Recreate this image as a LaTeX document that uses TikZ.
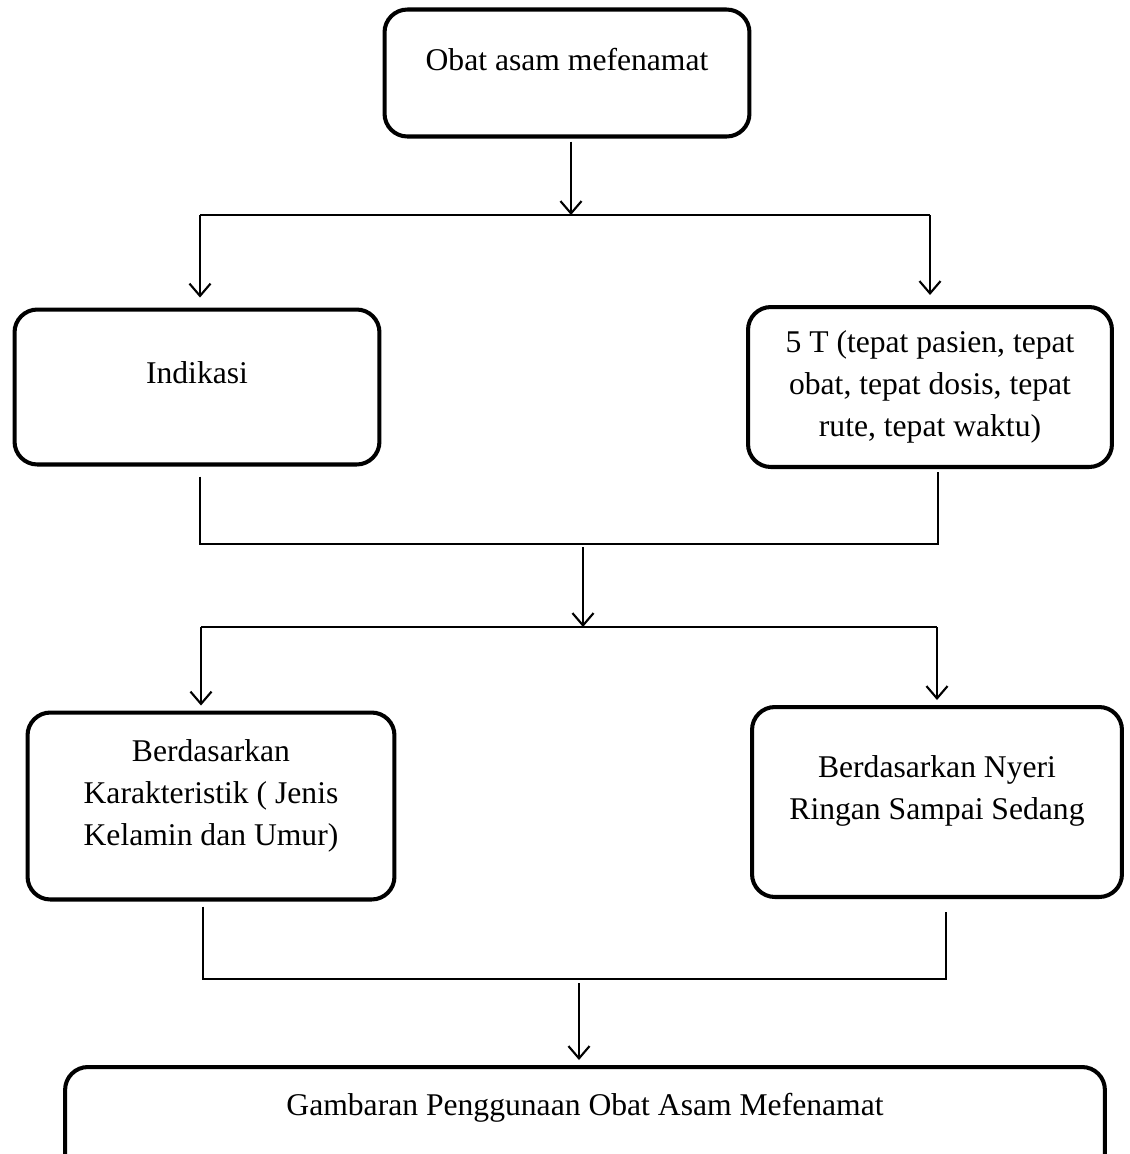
\documentclass[tikz,border=0pt]{standalone}
\usepackage{fontspec}
\setmainfont{Liberation Serif}
\usetikzlibrary{arrows.meta,calc}

\begin{document}
\begin{tikzpicture}[x=0.02cm,y=-0.02cm,
  >={Straight Barb[length=7pt,width=12pt,line width=1.2pt]},
  box/.style={draw,line width=2.3pt,rounded corners=13pt},
  txt/.style={font=\fontsize{18}{24}\selectfont,align=center},
  wire/.style={line width=1.1pt}]
  \useasboundingbox (0,0) rectangle (1130,1154);
  \clip (0,0) rectangle (1130,1154);
  % boxes
  \node[box,minimum width=7.3cm,minimum height=2.54cm,
    label={[txt,yshift=.26cm]center:Obat asam mefenamat}] (obat) at (567,73) {};
  \node[box,minimum width=7.3cm,minimum height=3.1cm,
    label={[txt,yshift=.28cm]center:Indikasi}] (indikasi) at (197,387) {};
  \node[box,minimum width=7.28cm,minimum height=3.2cm,
    label={[txt]center:{5 T (tepat pasien, tepat\\obat, tepat dosis, tepat\\rute, tepat waktu)}}] (limat) at (930,387) {};
  \node[box,minimum width=7.34cm,minimum height=3.74cm,
    label={[txt,yshift=.2cm]center:{Berdasarkan\\Karakteristik ( Jenis\\Kelamin dan Umur)}}] (karakter) at (211,806) {};
  \node[box,minimum width=7.4cm,minimum height=3.8cm,
    label={[txt,yshift=.22cm]center:{Berdasarkan Nyeri\\Ringan Sampai Sedang}}] (nyeri) at (937,802) {};
  \node[box,minimum width=20.8cm,minimum height=2.24cm,
    label={[txt,yshift=.3cm]center:Gambaran Penggunaan Obat Asam Mefenamat}] (gambaran) at (585,1123) {};
  % first split
  \coordinate (a1) at (200,215); \coordinate (a2) at (930,215);
  \draw[wire,->] ($(obat.south)+(4,3)$) -- ($(obat.south |- a1)+(4,0)$);
  \draw[wire] (a1) -- (a2);
  \draw[wire,->,shorten >=.2cm] (a1) -- (a1 |- indikasi.north);
  \draw[wire,->,shorten >=.2cm] (a2) -- (a2 |- limat.north);
  % join and second split
  \coordinate (b1) at (200,544); \coordinate (b2) at (938,544);
  \coordinate (c1) at (201,627); \coordinate (c2) at (937,627);
  \coordinate (b0) at (583,544); \coordinate (c0) at (583,627);
  \draw[wire,shorten <=.2cm,shorten >=.06cm] (indikasi.south -| b1) -- (b1) -- (b2) -- (b2 |- limat.south);
  \draw[wire,->,shorten <=.06cm] (b0) -- (c0);
  \draw[wire] (c1) -- (c2);
  \draw[wire,->,shorten >=.1cm] (c1) -- (c1 |- karakter.north);
  \draw[wire,->,shorten >=.1cm] (c2) -- (c2 |- nyeri.north);
  % last join
  \coordinate (d1) at (203,979); \coordinate (d2) at (946,979);
  \coordinate (d0) at (579,979);
  \draw[wire,shorten <=.1cm,shorten >=.26cm] (karakter.south -| d1) -- (d1) -- (d2) -- (d2 |- nyeri.south);
  \draw[wire,->,shorten <=.08cm,shorten >=.1cm] (d0) -- (d0 |- gambaran.north);
\end{tikzpicture}
\end{document}
